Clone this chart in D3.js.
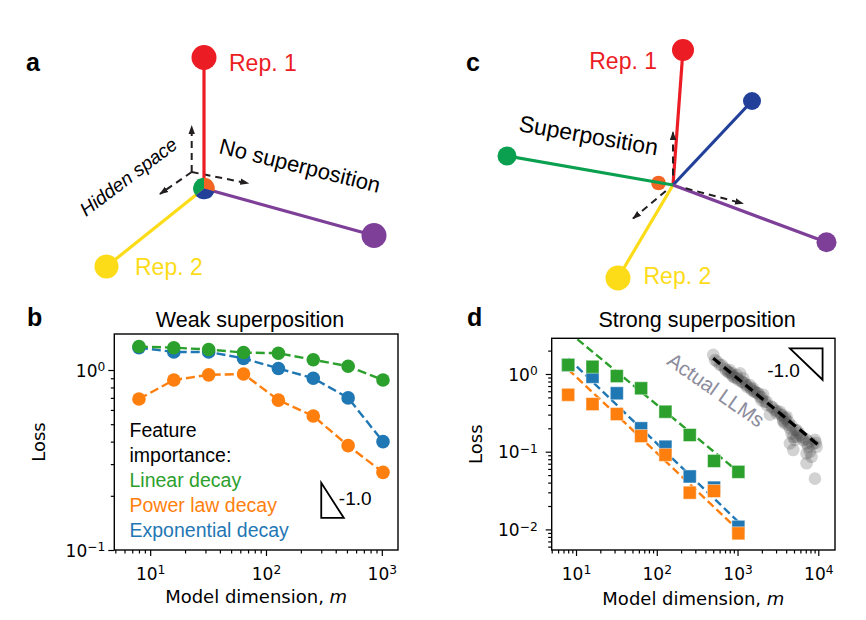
<!DOCTYPE html>
<html>
<head>
<meta charset="utf-8">
<script src="https://cdn.jsdelivr.net/npm/d3@7"></script>
<style>
  body { margin: 0; background: #fff; }
  svg { display: block; }
</style>
</head>
<body>
<script>
// model dimension m, shared by panels b and d
var dims = [8, 16, 32, 64, 128, 256, 512, 1024];

// panel b, weak superposition (loss per m)
var weakLinear = [1.35, 1.33, 1.30, 1.25, 1.24, 1.14, 1.05, 0.88];
var weakPower = [0.69, 0.88, 0.94, 0.95, 0.68, 0.555, 0.38, 0.27];
var weakExp = [1.33, 1.26, 1.26, 1.16, 1.02, 0.90, 0.70, 0.40];

// panel d, strong superposition (loss per m)
var strongLinear = [1.31, 1.24, 0.94, 0.655, 0.327, 0.164, 0.076, 0.055];
var strongPower = [0.54, 0.41, 0.305, 0.159, 0.091, 0.0297, 0.0312, 0.0089];
var strongExp = [1.30, 0.92, 0.565, 0.20, 0.116, 0.048, 0.0345, 0.0108];

// dashed fits in d, from m = 8 to m = 1024
var fitDims = [8, 1024];
var fitLinear = [3.5, 0.055];
var fitPower = [1.15, 0.0098];
var fitExp = [1.59, 0.0125];

// actual LLMs (model dim, loss) and their fit
var llmDim = [500, 525, 698, 767, 845, 885, 975, 1072, 1021, 1124, 1236, 1297, 1423, 1494,
  1641, 1803, 1893, 1986, 2080, 2183, 2291, 2517, 2642, 2904, 3350, 3513, 3681, 3864, 4055,
  4250, 4450, 4670, 4890, 5130, 5380, 5910, 6500, 7160, 7500, 7870, 7160, 9080, 9530, 8260,
  7160, 9080, 4890, 4450, 805, 1178, 1563, 3050, 3864, 5380, 3681, 605,
  560, 640, 720, 780, 850, 930, 1000, 1150, 1300, 1450, 1600, 1750, 2000, 2300, 2700, 3100,
  3500, 3900, 4300, 4700, 5200, 5700, 6300, 7000, 7700, 8500, 9300];
var llmLoss = [1.76, 1.51, 1.18, 1.07, 1.02, 0.92, 0.97, 1.02, 0.84, 0.80, 0.76, 0.69, 0.72, 0.62,
  0.59, 0.565, 0.51, 0.46, 0.54, 0.44, 0.40, 0.30, 0.38, 0.344, 0.327, 0.30, 0.256, 0.232, 0.282,
  0.221, 0.20, 0.172, 0.156, 0.142, 0.19, 0.164, 0.142, 0.128, 0.116, 0.10, 0.095, 0.142, 0.116, 0.086,
  0.071, 0.045, 0.105, 0.128, 1.12, 0.88, 0.65, 0.312, 0.27, 0.156, 0.245, 1.31,
  1.45, 1.30, 1.12, 1.05, 0.97, 0.90, 0.88, 0.79, 0.72, 0.66, 0.60, 0.57, 0.50, 0.44, 0.37, 0.33,
  0.295, 0.27, 0.24, 0.215, 0.19, 0.175, 0.155, 0.145, 0.135, 0.125, 0.13];
var llmFitDim = [500, 10000];
var llmFitLoss = [1.59, 0.122];

// slope -1 guide triangles
var slopeB = [300, 470];
var slopeD = [4450, 11300];

var legendLabels = ["Linear decay", "Power law decay", "Exponential decay"];

// diagram vectors (a, c): unit = 100px, y up
var vecsA = [[0, 1.31], [-0.975, -0.78], [1.70, -0.47]];
var hiddenOriginA = [-0.123, 0.165];
var hiddenTipsA = [[-0.123, 0.625], [-0.44, -0.055], [0.443, 0.052]];
var vecsC = [[0.10, 1.35], [-0.55, -0.93], [0.79, 0.84], [-1.66, 0.29], [1.535, -0.573]];
var orangeC = [-0.145, 0.02];
var hiddenTipsC = [[0, 0.53], [0.70, -0.185], [-0.40, -0.335]];

var blue = "#1f77b4", orange = "#ff7f0e", green = "#2ca02c";
var arial = "'Liberation Sans', Arial, sans-serif";
var dejavu = "'DejaVu Sans', sans-serif";

var svg = d3.select("body").append("svg")
    .attr("width", 866)
    .attr("height", 620)
    .style("font-family", arial);

function logTicks(dom) {
    var major = [], minor = [];
    var lo = Math.floor(Math.log10(dom[0])), hi = Math.ceil(Math.log10(dom[1]));
    for (var e = lo; e <= hi; e++) {
        for (var k = 1; k < 10; k++) {
            var v = +(k * Math.pow(10, e)).toPrecision(6);
            if (v < dom[0] * 0.999 || v > dom[1] * 1.001) continue;
            (k === 1 ? major : minor).push(v);
        }
    }
    return { major: major, minor: minor };
}

function supText(sel) {
    sel.each(function (d) {
        var e = Math.round(Math.log10(d));
        var t = d3.select(this).text("");
        t.append("tspan").text("10");
        t.append("tspan").attr("dy", "-0.45em").attr("font-size", "0.72em")
            .text(e < 0 ? "\u2212" + (-e) : e);
    });
}

function styleAxis(g) {
    g.select(".domain").remove();
    g.selectAll(".tick line").attr("stroke", "#000").attr("stroke-width", 1.2);
    g.attr("font-family", dejavu).attr("font-size", 17);
    g.selectAll(".tick text").attr("fill", "#000");
}

function drawAxes(box, x, y, ypad, xlabBase) {
    var xt = logTicks(x.domain()), yt = logTicks(y.domain());
    var g = svg.append("g");

    g.append("g").attr("transform", "translate(0," + box.bottom + ")")
        .call(d3.axisBottom(x).tickValues(xt.minor).tickSize(3.5).tickFormat(""))
        .call(styleAxis);
    var gx = g.append("g").attr("transform", "translate(0," + box.bottom + ")")
        .call(d3.axisBottom(x).tickValues(xt.major).tickSize(6).tickFormat(function (d) { return d; }))
        .call(styleAxis);
    gx.selectAll(".tick text").attr("y", 30).attr("dy", null).call(supText);

    g.append("g").attr("transform", "translate(" + box.left + ",0)")
        .call(d3.axisLeft(y).tickValues(yt.minor).tickSize(3.5).tickFormat(""))
        .call(styleAxis);
    var gy = g.append("g").attr("transform", "translate(" + box.left + ",0)")
        .call(d3.axisLeft(y).tickValues(yt.major).tickSize(6).tickPadding(ypad).tickFormat(function (d) { return d; }))
        .call(styleAxis);
    gy.selectAll(".tick text").attr("dy", "0.36em").call(supText);

    var cx = (box.left + box.right) / 2;
    var xl = g.append("text").attr("x", cx).attr("y", xlabBase)
        .attr("text-anchor", "middle").attr("font-family", dejavu).attr("font-size", 18);
    xl.append("tspan").text("Model dimension, ");
    xl.append("tspan").attr("font-style", "italic").text("m");

    g.append("text")
        .attr("transform", "translate(" + (box.left - 76) + "," + ((box.top + box.bottom) / 2) + ") rotate(-90)")
        .attr("dy", "0.35em")
        .attr("text-anchor", "middle").attr("font-family", dejavu).attr("font-size", 18)
        .text("Loss");
}

function frame(box) {
    svg.append("rect")
        .attr("x", box.left).attr("y", box.top)
        .attr("width", box.right - box.left).attr("height", box.bottom - box.top)
        .attr("fill", "none").attr("stroke", "#000").attr("stroke-width", 1.4);
}

function clipFor(id, box) {
    svg.append("clipPath").attr("id", id).append("rect")
        .attr("x", box.left).attr("y", box.top)
        .attr("width", box.right - box.left).attr("height", box.bottom - box.top);
    return svg.append("g").attr("clip-path", "url(#" + id + ")");
}

// ---------------- panel b ----------------
var bBox = { left: 114.3, right: 398, top: 334, bottom: 550 };
var xB = d3.scaleLog().domain([4.9, 1380]).range([bBox.left, bBox.right]);
var yB = d3.scaleLog().domain([0.1, 1.585]).range([bBox.bottom, bBox.top]);

drawAxes(bBox, xB, yB, 3, 603);
var plotB = clipFor("clipB", bBox);

var lineB = d3.line()
    .x(function (d) { return xB(d[0]); })
    .y(function (d) { return yB(d[1]); });

[[weakExp, blue], [weakPower, orange], [weakLinear, green]].forEach(function (s) {
    var pts = d3.zip(dims, s[0]);
    plotB.append("path").datum(pts)
        .attr("d", lineB)
        .attr("fill", "none")
        .attr("stroke", s[1])
        .attr("stroke-width", 2.4)
        .attr("stroke-dasharray", "9,4");
    plotB.selectAll(null).data(pts).enter().append("circle")
        .attr("cx", function (d) { return xB(d[0]); })
        .attr("cy", function (d) { return yB(d[1]); })
        .attr("r", 6.8)
        .attr("fill", s[1]);
});

// slope triangle b
var tbTop = 0.236, tbBot = tbTop * slopeB[0] / slopeB[1];
svg.append("path")
    .attr("d", "M" + xB(slopeB[0]) + "," + yB(tbTop) + "L" + xB(slopeB[0]) + "," + yB(tbBot) +
        "L" + xB(slopeB[1]) + "," + yB(tbBot) + "Z")
    .attr("fill", "none").attr("stroke", "#000").attr("stroke-width", 1.8);
svg.append("text").attr("x", xB(slopeB[1]) - 5).attr("y", 505)
    .attr("font-size", 19).text("-1.0");

// legend b
svg.append("text").attr("x", 129.5).attr("y", 437).attr("font-size", 19.5).text("Feature");
svg.append("text").attr("x", 129.5).attr("y", 462).attr("font-size", 19.5).text("importance:");
[green, orange, blue].forEach(function (c, i) {
    svg.append("text").attr("x", 129.5).attr("y", 487 + i * 25.2)
        .attr("font-size", 19.5).attr("fill", c).text(legendLabels[i]);
});

svg.append("text").attr("x", 250).attr("y", 327).attr("text-anchor", "middle")
    .attr("font-size", 21.5).text("Weak superposition");
frame(bBox);

// ---------------- panel d ----------------
var dBox = { left: 551.7, right: 835, top: 338.3, bottom: 550 };
var xD = d3.scaleLog().domain([5.0, 16100]).range([dBox.left, dBox.right]);
var yD = d3.scaleLog().domain([0.00543, 2.88]).range([dBox.bottom, dBox.top]);

drawAxes(dBox, xD, yD, 8, 605);
var plotD = clipFor("clipD", dBox);

var lineD = d3.line()
    .x(function (d) { return xD(d[0]); })
    .y(function (d) { return yD(d[1]); });

[[fitLinear, green], [fitExp, blue], [fitPower, orange]].forEach(function (s) {
    plotD.append("path").datum(d3.zip(fitDims, s[0]))
        .attr("d", lineD)
        .attr("fill", "none")
        .attr("stroke", s[1])
        .attr("stroke-width", 2.4)
        .attr("stroke-dasharray", "8,4");
});

var sq = 13;
[[strongExp, blue], [strongPower, orange], [strongLinear, green]].forEach(function (s) {
    plotD.selectAll(null).data(d3.zip(dims, s[0])).enter().append("rect")
        .attr("x", function (d) { return xD(d[0]) - sq / 2; })
        .attr("y", function (d) { return yD(d[1]) - sq / 2; })
        .attr("width", sq).attr("height", sq)
        .attr("fill", s[1])
        .attr("stroke", "#fff").attr("stroke-opacity", 0.45).attr("stroke-width", 1);
});

plotD.selectAll(null).data(d3.zip(llmDim, llmLoss)).enter().append("circle")
    .attr("cx", function (d) { return xD(d[0]); })
    .attr("cy", function (d) { return yD(d[1]); })
    .attr("r", 6.3)
    .attr("fill", "#4a4a4a")
    .attr("fill-opacity", 0.25);

plotD.append("path").datum(d3.zip(llmFitDim, llmFitLoss))
    .attr("d", lineD)
    .attr("fill", "none")
    .attr("stroke", "#000")
    .attr("stroke-width", 3.2)
    .attr("stroke-dasharray", "9,5");

svg.append("text")
    .attr("transform", "translate(716,390) rotate(35)")
    .attr("text-anchor", "middle").attr("dy", "0.35em")
    .attr("font-size", 20.5).attr("fill", "#8c8c9c")
    .text("Actual LLMs");

// slope triangle d
var tdTop = 2.14, tdBot = tdTop * slopeD[0] / slopeD[1];
svg.append("path")
    .attr("d", "M" + xD(slopeD[0]) + "," + yD(tdTop) + "L" + xD(slopeD[1]) + "," + yD(tdTop) +
        "L" + xD(slopeD[1]) + "," + yD(tdBot) + "Z")
    .attr("fill", "none").attr("stroke", "#000").attr("stroke-width", 1.8);
svg.append("text").attr("x", xD(slopeD[0]) + 10).attr("y", 377)
    .attr("text-anchor", "end").attr("font-size", 19).text("-1.0");

svg.append("text").attr("x", 697).attr("y", 327).attr("text-anchor", "middle")
    .attr("font-size", 21.5).text("Strong superposition");
frame(dBox);

// ---------------- diagrams a and c ----------------
var red = "#ec1c24", yellow = "#fcdc18", purple = "#7d3f98", dblue = "#22409a",
    dgreen = "#0aa04f", dorange = "#f26522", ink = "#231f20";

svg.append("defs").append("marker")
    .attr("id", "head")
    .attr("viewBox", "0 -4 9 8")
    .attr("refX", 8).attr("refY", 0)
    .attr("markerWidth", 9).attr("markerHeight", 8)
    .attr("markerUnits", "userSpaceOnUse")
    .attr("orient", "auto")
    .append("path").attr("d", "M0,-3.2L9,0L0,3.2Z").attr("fill", ink);

function diagScales(cx, cy) {
    return {
        x: d3.scaleLinear().domain([0, 1]).range([cx, cx + 100]),
        y: d3.scaleLinear().domain([0, 1]).range([cy, cy - 100])
    };
}

function dashArrow(s, from, to) {
    svg.append("line")
        .attr("x1", s.x(from[0])).attr("y1", s.y(from[1]))
        .attr("x2", s.x(to[0])).attr("y2", s.y(to[1]))
        .attr("stroke", ink).attr("stroke-width", 2)
        .attr("stroke-dasharray", "7,5")
        .attr("marker-end", "url(#head)");
}

function spokes(s, vecs, colors) {
    vecs.forEach(function (v, i) {
        svg.append("line")
            .attr("x1", s.x(0)).attr("y1", s.y(0))
            .attr("x2", s.x(v[0])).attr("y2", s.y(v[1]))
            .attr("stroke", colors[i]).attr("stroke-width", 3.2);
    });
}

function ends(s, vecs, colors, radii) {
    vecs.forEach(function (v, i) {
        svg.append("circle")
            .attr("cx", s.x(v[0])).attr("cy", s.y(v[1]))
            .attr("r", radii[i]).attr("fill", colors[i]);
    });
}

// panel a
var sA = diagScales(204, 188.5);
hiddenTipsA.forEach(function (t) { dashArrow(sA, hiddenOriginA, t); });
spokes(sA, vecsA, [red, yellow, purple]);
ends(sA, vecsA, [red, yellow, purple], [12.5, 12, 12.5]);

var ang = vecsA.map(function (v) {
    var a = Math.atan2(v[0], v[1]);
    return a < 0 ? a + 2 * Math.PI : a;
});
var arcA = d3.arc().innerRadius(0).outerRadius(10.8);
var hub = svg.append("g").attr("transform", "translate(" + sA.x(0) + "," + sA.y(0) + ")");
[[ang[0], ang[2], dorange], [ang[2], ang[1], dblue], [ang[1], 2 * Math.PI, dgreen]].forEach(function (p) {
    hub.append("path")
        .attr("d", arcA({ startAngle: p[0], endAngle: p[1] }))
        .attr("fill", p[2]);
});

svg.append("text").attr("x", 229).attr("y", 70.5).attr("font-size", 23).attr("fill", red).text("Rep. 1");
svg.append("text").attr("x", 135).attr("y", 275).attr("font-size", 23).attr("fill", yellow).text("Rep. 2");
svg.append("text").attr("transform", "translate(218,153) rotate(14)")
    .attr("font-size", 22).text("No superposition");
svg.append("text").attr("transform", "translate(86,217) rotate(-37)")
    .attr("font-size", 19).attr("font-style", "italic").text("Hidden space");

// panel c
var sC = diagScales(673, 185);
svg.append("circle").attr("cx", sC.x(orangeC[0])).attr("cy", sC.y(orangeC[1]))
    .attr("r", 7.3).attr("fill", dorange);
var colorsC = [red, yellow, dblue, dgreen, purple];
spokes(sC, vecsC, colorsC);
hiddenTipsC.forEach(function (t) {
    dashArrow(sC, [t[0] * 0.18, t[1] * 0.18], t);
});
ends(sC, vecsC, colorsC, [11, 12.5, 9, 9.5, 10]);

svg.append("text").attr("x", 657).attr("y", 68.5).attr("text-anchor", "end")
    .attr("font-size", 23).attr("fill", red).text("Rep. 1");
svg.append("text").attr("x", 643.5).attr("y", 284).attr("font-size", 23).attr("fill", yellow).text("Rep. 2");
svg.append("text").attr("transform", "translate(518,131) rotate(10)")
    .attr("font-size", 23).text("Superposition");

// panel letters
[["a", 26, 71], ["c", 466, 71], ["b", 27, 326], ["d", 467, 326]].forEach(function (p) {
    svg.append("text").attr("x", p[1]).attr("y", p[2])
        .attr("font-size", 25).attr("font-weight", "bold").text(p[0]);
});
</script>
</body>
</html>
